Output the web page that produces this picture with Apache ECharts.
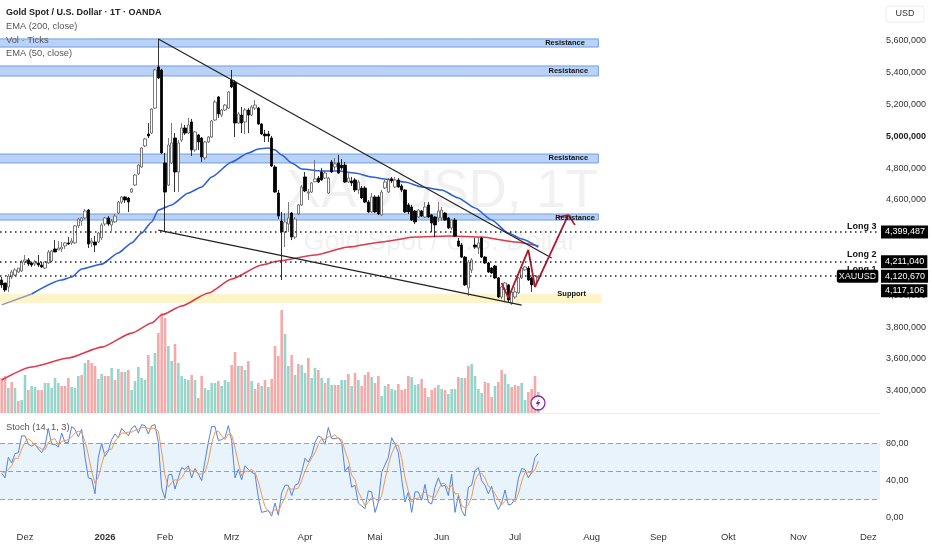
<!DOCTYPE html>
<html><head><meta charset="utf-8">
<style>html,body{margin:0;padding:0;background:#fff}#c{width:932px;height:550px}</style>
<script src="https://cdn.jsdelivr.net/npm/echarts@6/dist/echarts.min.js"></script>
</head><body><div id="c"></div>
<script>
// price values are in thousands
const candles=[[4097,4066,4047,4116],[4078,4034,4022,4078],[4053,4122,4022,4135],[4116,4147,4103,4160],[4128,4160,4122,4172],[4147,4172,4141,4172],[4154,4210,4147,4223],[4210,4223,4191,4254],[4223,4198,4185,4235],[4204,4191,4179,4210],
[4198,4210,4185,4223],[4204,4191,4179,4254],[4191,4179,4172,4210],[4172,4210,4166,4210],[4204,4273,4198,4286],[4216,4279,4210,4286],[4292,4273,4273,4348],[4286,4298,4286,4342],[4292,4304,4273,4336],[4311,4330,4292,4336],
[4330,4323,4317,4367],[4330,4342,4317,4361],[4330,4437,4323,4443],[4437,4480,4424,4487],[4468,4487,4437,4493],[4487,4531,4480,4543],[4537,4323,4298,4543],[4330,4342,4304,4361],[4336,4317,4273,4374],[4336,4392,4330,4399],
[4361,4443,4348,4455],[4449,4487,4437,4493],[4487,4449,4437,4499],[4443,4468,4405,4480],[4462,4499,4455,4512],[4518,4587,4512,4594],[4587,4619,4575,4625],[4619,4600,4581,4625],[4612,4587,4525,4619],[4650,4669,4644,4675],
[4694,4757,4688,4764],[4764,4820,4757,4827],[4808,4927,4802,4933],[4940,4984,4933,4990],[5015,5003,4990,5084],[5021,5172,5015,5178],[5178,5418,5172,5425],[5437,5367,5361,5613],[5418,4896,4890,5425],[4833,4650,4399,4896],
[4694,4946,4688,4990],[4833,4959,4827,5084],[4990,4776,4650,5021],[4776,4959,4650,4977],[4977,5053,4965,5084],[5053,5021,5009,5072],[5021,5072,5015,5116],[5091,4915,4877,5110],[4915,5028,4902,5034],[5009,4965,4915,5015],
[4990,4871,4839,4996],[4865,4965,4852,4971],[4965,4996,4959,5003],[4996,5097,4990,5103],[5103,5216,5097,5229],[5248,5141,5116,5254],[5134,5166,5122,5172],[5166,5197,5160,5204],[5178,5279,5172,5285],[5355,5311,5304,5418],
[5342,5084,4996,5355],[5084,5141,5078,5153],[5134,5084,5021,5185],[5091,5166,5015,5178],[5166,5134,5021,5178],[5134,5185,5128,5197],[5178,5197,5166,5229],[5178,5078,5072,5185],[5078,5015,5009,5084],[5015,5003,4965,5040],
[5015,5003,4965,5034],[4990,4814,4808,5003],[4808,4650,4644,4820],[4644,4499,4480,4663],[4468,4399,4097,4525],[4399,4462,4304,4518],[4449,4487,4399,4587],[4518,4367,4348,4525],[4367,4480,4355,4493],[4512,4569,4505,4575],
[4569,4682,4562,4694],[4745,4657,4650,4776],[4644,4650,4600,4669],[4650,4707,4644,4713],[4714,4733,4713,4852],[4738,4713,4707,4751],[4776,4726,4720,4802],[4738,4770,4732,4783],[4644,4738,4638,4745],[4839,4776,4770,4852],
[4808,4827,4789,4864],[4833,4770,4764,4883],[4820,4802,4789,4858],[4820,4713,4707,4839],[4713,4738,4707,4770],[4720,4707,4688,4745],[4726,4663,4650,4738],[4663,4713,4638,4726],[4675,4613,4606,4688],[4675,4587,4581,4688],
[4587,4525,4518,4600],[4525,4619,4518,4644],[4619,4525,4518,4631],[4619,4512,4506,4631],[4506,4650,4499,4663],[4676,4713,4669,4726],[4650,4726,4644,4738],[4733,4720,4707,4745],[4682,4726,4676,4745],[4726,4682,4676,4738],
[4688,4663,4650,4700],[4663,4525,4518,4669],[4569,4525,4512,4581],[4556,4474,4468,4569],[4531,4462,4449,4537],[4493,4537,4487,4543],[4531,4499,4493,4537],[4493,4556,4487,4587],[4569,4493,4487,4587],[4506,4455,4399,4512],
[4493,4443,4367,4499],[4487,4531,4462,4587],[4487,4537,4468,4556],[4518,4474,4468,4525],[4487,4424,4418,4493],[4424,4474,4411,4480],[4474,4373,4367,4487],[4342,4311,4304,4361],[4317,4241,4235,4330],[4241,4066,4060,4248],
[4047,4210,3996,4223],[4160,4223,4141,4235],[4317,4304,4292,4361],[4298,4330,4260,4361],[4361,4241,4235,4367],[4241,4204,4198,4248],[4204,4147,4141,4210],[4172,4141,4135,4179],[4185,4110,4103,4191],[4110,3990,3984,4116],
[3990,4053,3977,4060],[4034,4078,3958,4084],[4066,3971,3958,4072],[3952,4022,3940,4034],[3990,4022,3978,4053],[4016,4110,4009,4116],[4110,4172,4103,4185],[4160,4179,4154,4185],[4172,4097,4091,4185],[4110,4066,4022,4116],
[4066,4122,4053,4128],[4110,4121,4103,4128]];

const volume=[35,37,25,31,25,12,13,38,23,27,26,23,23,30,30,25,35,30,27,27,35,26,25,37,38,50,53,50,47,34,39,37,37,45,33,44,41,41,43,23,32,46,35,33,58,47,
60,80,100,95,67,52,69,50,37,34,33,38,33,15,37,25,23,30,30,32,27,33,31,48,61,47,47,43,52,32,24,30,27,33,26,34,67,57,103,79,47,58,38,49,
48,40,55,35,45,43,35,30,35,28,28,28,33,33,39,27,40,33,27,38,41,36,30,37,17,27,29,24,23,29,23,24,37,36,28,29,34,25,16,23,25,28,24,23,19,24,24,36,35,35,47,49,37,24,20,31,30,16,27,31,43,39,29,26,28,27,30,13,21,24,37,21];
const volumeDir="RRTRTRTTRTTRRTTTTTRRRTTTRTRRRTTRRTRTRTRTTTTTRT"+"TRRRTTRTTTTRTRRTTTTRTTTRRTRTRTRRTRTRRRRTTRTR"+"TTRTTRTRTTRRTTRTRTRRRTRRTTRTTRRRRTTTRRTRRTTRTTTRTRRTTTTRRRTRRTTRRRTTRRRT";

const ema50Idx=[0,9,18,21,24,30,35,39,42,45,47,51,56,60,63,69,74,77,80,82,84,87,90,96,101,106,111,115,121,126,132,137,142,147,152,156,161];
const ema50=[3940,4009,4097,4116,4166,4197,4267,4330,4392,4462,4537,4569,4644,4682,4745,4839,4896,4921,4927,4915,4883,4833,4795,4782,4782,4770,4745,4732,4713,4682,4663,4613,4550,4474,4392,4355,4304];
const ema50GreyEnd=1;
const ema200Idx=[0,9,20,30,39,45,48,54,62,69,78,83,94,104,114,124,134,144,154,161];
const ema200=[3468,3550,3606,3675,3763,3826,3877,3933,4015,4103,4191,4216,4254,4304,4336,4367,4374,4367,4336,4311];

const stochK=[48,43,65,59,69,70,88,88,79,77,79,74,70,77,96,79,79,76,91,81,81,98,95,87,95,65,43,42,26,65,80,66,72,84,90,86,96,92,88,96,99,91,100,99,90,99,100,81,32,21,46,47,31,43,54,52,56,43,53,47,40,61,81,98,98,83,84,86,99,83,43,52,41,56,52,49,47,22,6,7,8,2,16,3,27,35,35,24,35,37,49,64,60,67,81,88,86,79,97,85,85,86,81,50,55,33,35,16,13,10,29,28,6,17,49,57,65,86,79,70,42,17,28,6,28,28,19,36,17,15,33,43,34,35,24,47,6,24,8,2,33,35,51,54,40,35,26,34,17,9,16,30,14,15,21,42,53,52,43,49,65,69];
const stochD=[50,48,52,56,64,64,74,81,85,82,78,76,74,73,81,84,85,78,82,83,84,87,91,93,92,82,68,50,37,44,57,70,73,74,82,87,91,91,92,92,94,95,97,97,96,96,96,93,71,45,33,38,41,40,43,49,54,50,51,47,47,49,61,80,92,93,88,84,90,89,75,59,45,50,50,52,49,39,25,12,7,6,9,7,15,22,32,31,31,32,40,50,58,64,70,79,85,84,87,87,89,85,84,72,62,46,41,28,21,13,17,22,21,17,24,41,57,69,77,78,64,43,29,17,21,21,25,28,24,23,22,30,37,37,31,35,26,26,13,11,14,23,40,47,48,43,34,32,26,20,14,18,20,20,17,26,39,49,49,48,52,61];

const yTicks=[3400,3600,3800,4000,4200,4400,4600,4800,5000,5200,5400,5600];
const monthIdx=[7,31,49,69,91,112,132,154,177,197,218,239,260];
const monthNames=['Dez','2026','Feb','Mrz','Apr','Mai','Jun','Jul','Aug','Sep','Okt','Nov','Dez'];
const slotCount=264;

const resistanceBands=[[5613,5562,179],[5443,5380,179],[4889,4833,179],[4512,4474,179]];
const supportBand=[[4009,3952,180]];
const upperTrend=[[47,5613],[165,4235]];
const lowerTrend=[[47,4411],[156,3939]];
const zigzag=[[150,4078],[152,3984],[158,4286],[160,4053],[170,4506]];
const arrowBarbs=[[167,4493],[170,4506],[172,4443]];
const levelVals=[4399.487,4211.04,4120.67];
const levelTexts=['4,399,487','4,211,040','4,120,670'];
const hiddenLevel=4117.106, hiddenText='4,117,106';
const zoneMarks=[[169,5587,'Resistance'],[170,5411,'Resistance'],[170,4864,'Resistance'],[172,4487,'Resistance'],[171,4009,'Support']];
const longMarks=[[258,4436,'Long 3'],[258,4254,'Long 2'],[258,4160,'Long 1']];
const lastTag=[263,4120.67,'XAUUSD'];

const FONT='"Liberation Sans",Arial,sans-serif';
const categories=Array.from({length:slotCount},(_,i)=>String(i));
const TEAL='#97d5ca',RED='#f5a9a9';
const chart=echarts.init(document.getElementById('c'),null,{renderer:'canvas'});

const xBase={type:'category',data:categories,boundaryGap:true,axisTick:{show:false},axisLabel:{show:false},axisLine:{show:false},splitLine:{show:false},axisPointer:{show:false}};
function bandSeries(data,fill,stroke){
 return {type:'custom',xAxisIndex:0,yAxisIndex:0,silent:true,z:1,data,encode:{x:2,y:[0,1]},clip:false,
  renderItem:(params,api)=>{
   const a=api.coord([api.value(2),api.value(0)]),b=api.coord([api.value(2),api.value(1)]);
   const left=params.coordSys.x-2;
   return {type:'rect',shape:{x:left,y:a[1],width:a[0]-left,height:b[1]-a[1]},
     style:{fill,stroke:stroke||'none',lineWidth:1}};
  }};
}
const tagLabel=(text,extra)=>Object.assign({show:true,position:'end',distance:1,formatter:text,color:'#fff',backgroundColor:'#000',padding:[2,3,2,4],fontSize:9,fontFamily:FONT},extra||{});

chart.setOption({
 animation:false,backgroundColor:'#fff',
 grid:[
  {left:0,width:880,top:9.2,height:413.4},
  {left:0,width:880,top:310,height:103},
  {left:0,width:880,top:406,height:112}
 ],
 xAxis:[
  Object.assign({},xBase,{gridIndex:0}),
  Object.assign({},xBase,{gridIndex:1,axisLine:{show:true,lineStyle:{color:'#f0f0f0'}}}),
  Object.assign({},xBase,{gridIndex:2,axisLabel:{show:true,margin:14,fontSize:9.5,fontFamily:FONT,color:'#333',
    interval:(i)=>monthIdx.includes(i),
    formatter:(v)=>{const n=monthNames[monthIdx.indexOf(+v)];return n==='2026'?'{b|2026}':n;},
    rich:{b:{fontWeight:'bold',fontSize:9.5,fontFamily:FONT,color:'#333'}}}})
 ],
 yAxis:[
  {type:'value',gridIndex:0,position:'right',min:3200,max:5800,interval:200,splitLine:{show:false},axisLine:{show:false},axisTick:{show:false},
   axisLabel:{margin:6,fontSize:9,fontFamily:FONT,color:'#333',
    formatter:(v)=>{if(!yTicks.includes(v))return'';const s=v.toLocaleString('en-US')+',000';return v===5000?'{b|'+s+'}':s;},
    rich:{b:{fontWeight:'bold',fontSize:9,fontFamily:FONT,color:'#222'}}}},
  {type:'value',gridIndex:1,min:0,max:103,show:false},
  {type:'value',gridIndex:2,position:'right',min:0,max:120,interval:40,splitLine:{show:false},axisLine:{show:false},axisTick:{show:false},
   axisLabel:{margin:6,fontSize:9,fontFamily:FONT,color:'#333',formatter:(v)=>v>=120?'':v.toFixed(2).replace('.',',')}}
 ],
 series:[
  bandSeries(resistanceBands,'#bad2f6','#6e9fe8'),
  bandSeries(supportBand,'#fdf5c9'),
  {type:'bar',xAxisIndex:1,yAxisIndex:1,barWidth:2.6,z:2,
   data:volume.map((v,i)=>({value:[i,v],itemStyle:{color:volumeDir[i]==='R'?RED:TEAL}}))},
  {type:'line',xAxisIndex:0,yAxisIndex:0,data:ema200Idx.map((x,i)=>[x,ema200[i]]),smooth:0.2,smoothMonotone:'x',showSymbol:false,lineStyle:{color:'#dc3a50',width:1.6},z:3},
  {type:'line',xAxisIndex:0,yAxisIndex:0,data:ema50Idx.slice(0,ema50GreyEnd+1).map((x,i)=>[x,ema50[i]]),showSymbol:false,lineStyle:{color:'#8e9bb4',width:1.4},z:3},
  {type:'line',xAxisIndex:0,yAxisIndex:0,data:ema50Idx.map((x,i)=>[x,ema50[i]]).slice(ema50GreyEnd),smooth:0.2,smoothMonotone:'x',showSymbol:false,lineStyle:{color:'#2f5fd6',width:1.6},z:3},
  {type:'candlestick',xAxisIndex:0,yAxisIndex:0,data:candles,barWidth:3,z:4,
   itemStyle:{color:'#ffffff',color0:'#000000',borderColor:'#5a5a5a',borderColor0:'#000000',borderWidth:0.8}},
  {type:'line',xAxisIndex:0,yAxisIndex:0,data:upperTrend,showSymbol:false,lineStyle:{color:'#222',width:1.2},z:5},
  {type:'line',xAxisIndex:0,yAxisIndex:0,data:lowerTrend,showSymbol:false,lineStyle:{color:'#222',width:1.2},z:5},
  {type:'line',xAxisIndex:0,yAxisIndex:0,data:zigzag,showSymbol:false,lineStyle:{color:'#b0182c',width:1.8},z:6},
  {type:'line',xAxisIndex:0,yAxisIndex:0,data:arrowBarbs,showSymbol:false,lineStyle:{color:'#b0182c',width:1.6},z:6},
  {type:'line',xAxisIndex:0,yAxisIndex:0,data:[],silent:true,z:20,
   markLine:{silent:true,symbol:'none',z:20,
    data:[
     ...levelVals.map((v,i)=>({yAxis:v,lineStyle:{color:'#222',type:[1.5,3.5],width:1.5},label:tagLabel(levelTexts[i])})),
     {yAxis:hiddenLevel,lineStyle:{color:'transparent',width:1},label:tagLabel(hiddenText,{offset:[0,14]})}
    ]}},
  {type:'scatter',xAxisIndex:0,yAxisIndex:0,symbolSize:0,z:15,itemStyle:{opacity:1},data:zoneMarks.map(t=>({value:[t[0],t[1]],name:t[2]})),
   label:{show:true,opacity:1,position:'inside',formatter:'{b}',color:'#111',fontWeight:'bold',fontSize:7.5,fontFamily:FONT}},
  {type:'scatter',xAxisIndex:0,yAxisIndex:0,symbolSize:0,z:15,itemStyle:{opacity:1},data:longMarks.map(t=>({value:[t[0],t[1]],name:t[2]})),
   label:{show:true,opacity:1,position:'inside',formatter:'{b}',color:'#111',fontWeight:'bold',fontSize:9,fontFamily:FONT}},
  {type:'scatter',xAxisIndex:0,yAxisIndex:0,symbolSize:0,z:19,itemStyle:{opacity:1},data:[{value:[lastTag[0],lastTag[1]],name:lastTag[2]}],
   label:{show:true,opacity:1,position:'left',distance:0,formatter:'{b}',color:'#fff',backgroundColor:'#000',borderRadius:2,padding:[2,2],fontSize:9,fontFamily:FONT}},
  {type:'line',xAxisIndex:2,yAxisIndex:2,data:[],silent:true,z:1,
   markArea:{silent:true,itemStyle:{color:'#e8f3fc'},data:[[{yAxis:80},{yAxis:20}]]},
   markLine:{silent:true,symbol:'none',label:{show:false},lineStyle:{color:'#9a9fa8',type:[5,3],width:1},data:[{yAxis:80},{yAxis:50},{yAxis:20}]}},
  {type:'line',xAxisIndex:2,yAxisIndex:2,data:stochK,showSymbol:false,lineStyle:{color:'#5580e2',width:1},z:3},
  {type:'line',xAxisIndex:2,yAxisIndex:2,data:stochD,showSymbol:false,lineStyle:{color:'#ef9a52',width:1},z:4}
 ],
 graphic:[
  {type:'text',z:0,style:{x:442,y:192,text:'XAUUSD, 1T',align:'center',verticalAlign:'middle',fontSize:53,fontFamily:FONT,fill:'#f1f1f1'}},
  {type:'text',z:0,style:{x:440,y:243,text:'Gold Spot / U.S. Dollar',align:'center',verticalAlign:'middle',fontSize:27,fontFamily:FONT,fill:'#f1f1f1'}},
  {type:'text',z:30,style:{x:6,y:13,text:'Gold Spot / U.S. Dollar · 1T · OANDA',verticalAlign:'middle',fontSize:9,fontWeight:'bold',fontFamily:FONT,fill:'#222'}},
  {type:'text',z:30,style:{x:6,y:26,text:'EMA (200, close)',verticalAlign:'middle',fontSize:9.3,fontFamily:FONT,fill:'#555'}},
  {type:'text',z:30,style:{x:6,y:40,text:'Vol · Ticks',verticalAlign:'middle',fontSize:9.3,fontFamily:FONT,fill:'#555'}},
  {type:'text',z:30,style:{x:6,y:53,text:'EMA (50, close)',verticalAlign:'middle',fontSize:9.3,fontFamily:FONT,fill:'#555'}},
  {type:'text',z:30,style:{x:6,y:427,text:'Stoch (14, 1, 3)',verticalAlign:'middle',fontSize:9.3,fontFamily:FONT,fill:'#555'}},
  {type:'rect',z:30,shape:{x:886,y:6,width:38,height:16,r:3},style:{fill:'#fff',stroke:'#ececec'}},
  {type:'text',z:31,style:{x:905,y:14,text:'USD',align:'center',verticalAlign:'middle',fontSize:9,fontFamily:FONT,fill:'#333'}},
  {type:'circle',z:30,shape:{cx:538,cy:403,r:7},style:{fill:'#fff',stroke:'#8e24aa',lineWidth:1.3}},
  {type:'polygon',z:31,shape:{points:[[539.5,398.5],[535.5,404],[537.8,404],[536.5,407.5],[540.5,402],[538.2,402]]},style:{fill:'#8e24aa'}}
 ]
});
</script></body></html>
